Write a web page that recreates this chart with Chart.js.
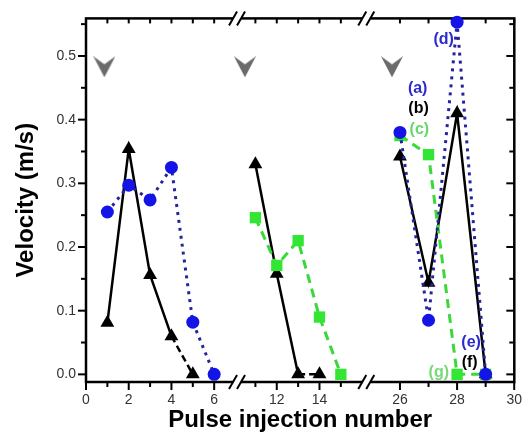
<!DOCTYPE html>
<html>
<head>
<meta charset="utf-8">
<script src="https://cdn.jsdelivr.net/npm/chart.js@4.4.1/dist/chart.umd.min.js"></script>
<style>
html, body { margin: 0; padding: 0; background: #fff; }
#wrap { width: 532px; height: 439px; }
</style>
</head>
<body>
<div id="wrap"><canvas id="myChart"></canvas></div>
<script>
// pulse number / velocity (m/s); null marks a jump over an axis break
var blackX = [1, 2, 3, 4, 5, null, 11, 12, 13, 14, null, 26, 27, 28, 29];
var blackY = [0.081, 0.354, 0.156, 0.06, 0.0, null, 0.33, 0.158, 0.0, 0.0, null, 0.342, 0.144, 0.41, 0.0];
var blueX = [1, 2, 3, 4, 5, 6, null, 26, 27, 28, 29];
var blueY = [0.255, 0.297, 0.274, 0.325, 0.082, 0.0, null, 0.38, 0.085, 0.553, 0.0];
var greenX = [11, 12, 13, 14, 15, null, 26, 27, 28, 29];
var greenY = [0.246, 0.171, 0.21, 0.09, 0.0, null, 0.375, 0.345, 0.0, 0.0];

// grey arrow heads (pulse injections)
var arrowX = [0.86, 10.51, 25.72];
var arrowY = [0.483, 0.483, 0.483];

var xTickLabels = [0, 2, 4, 6, 12, 14, 26, 28, 30];
var xMinorTicks = [1, 3, 5, 11, 13, 15, 27, 29];
var yTickLabels = [0, 0.1, 0.2, 0.3, 0.4, 0.5];
var yMinorTicks = [0.05, 0.15, 0.25, 0.35, 0.45, 0.55];

var tagText = ['(a)', '(b)', '(c)', '(d)', '(e)', '(f)', '(g)'];
var tagX = [26.62, 26.65, 26.68, 27.53, 28.49, 28.44, 27.36];
var tagY = [0.449, 0.418, 0.384, 0.526, 0.05, 0.019, 0.003];
var tagColor = ['#2b2bd0', '#000', '#66d866', '#2b2bd0', '#2b2bd0', '#000', '#77d877'];

// broken x axis: each piece maps pulse numbers onto one continuous axis
var xSegments = [
    { from: 0, to: 7.07, start: 0, stretch: 1 },
    { from: 10.14, to: 16.19, start: 7.07, stretch: 1 },
    { from: 24.82, to: 30, start: 13.12, stretch: 1.337 }
];
var xBreaks = [7.07, 13.12];

function toAxis(x) {
    for (var i = 0; i < xSegments.length; i++) {
        var s = xSegments[i];
        if (x <= s.to || i === xSegments.length - 1) {
            return s.start + (x - s.from) * s.stretch;
        }
    }
}

function points(xs, ys) {
    return xs.map(function (x, i) {
        return x === null ? { x: null, y: null } : { x: toAxis(x), y: ys[i] };
    });
}

// arrow head image for the pointStyle
var arrowImg = document.createElement('canvas');
arrowImg.width = 22;
arrowImg.height = 21;
(function () {
    var g = arrowImg.getContext('2d');
    g.fillStyle = '#6b6b6b';
    g.beginPath();
    g.moveTo(0, 0);
    g.lineTo(11, 8);
    g.lineTo(22, 0);
    g.lineTo(11, 21);
    g.closePath();
    g.fill();
})();

var framePlugin = {
    id: 'frame',
    beforeDatasetsDraw: function (chart) {
        var c = chart.ctx, a = chart.chartArea;
        var xs = chart.scales.x, ys = chart.scales.y;
        function line(x1, y1, x2, y2) {
            c.beginPath(); c.moveTo(x1, y1); c.lineTo(x2, y2); c.stroke();
        }
        c.save();
        c.strokeStyle = '#000';
        c.lineWidth = 2.5;
        c.strokeRect(a.left, a.top, a.right - a.left, a.bottom - a.top);
        c.lineWidth = 2;
        xTickLabels.concat(xMinorTicks).forEach(function (v) {
            var px = xs.getPixelForValue(toAxis(v));
            var len = xMinorTicks.indexOf(v) >= 0 ? 5 : 8;
            line(px, a.bottom, px, a.bottom + len);
            line(px, a.top, px, a.top + 5);
        });
        yTickLabels.concat(yMinorTicks).forEach(function (v) {
            var py = ys.getPixelForValue(v);
            var len = yMinorTicks.indexOf(v) >= 0 ? 5 : 8;
            line(a.left - len, py, a.left, py);
            line(a.right - len, py, a.right, py);
        });
        c.restore();
    },
    afterDatasetsDraw: function (chart) {
        var c = chart.ctx, a = chart.chartArea;
        var xs = chart.scales.x, ys = chart.scales.y;
        c.save();
        // break marks on the top and bottom axes
        xBreaks.forEach(function (b) {
            var px = xs.getPixelForValue(b);
            [a.top, a.bottom].forEach(function (py) {
                c.fillStyle = '#fff';
                c.fillRect(px - 4, py - 3, 8, 6);
                c.strokeStyle = '#000';
                c.lineWidth = 2;
                [-4, 4].forEach(function (dx) {
                    c.beginPath();
                    c.moveTo(px + dx - 4, py + 7);
                    c.lineTo(px + dx + 4, py - 7);
                    c.stroke();
                });
            });
        });
        // series tags
        c.font = 'bold 16px "Liberation Sans", Arial, sans-serif';
        c.textAlign = 'center';
        c.textBaseline = 'middle';
        tagText.forEach(function (t, i) {
            c.fillStyle = tagColor[i];
            c.fillText(t, xs.getPixelForValue(toAxis(tagX[i])), ys.getPixelForValue(tagY[i]));
        });
        c.restore();
    }
};

var ctx = document.getElementById('myChart').getContext('2d');

var myChart = new Chart(ctx, {
    type: 'line',
    data: {
        datasets: [
            {
                label: 'blue',
                data: points(blueX, blueY),
                borderColor: '#24249e',
                borderWidth: 3,
                borderDash: [3, 5],
                pointStyle: 'circle',
                pointRadius: 6.5,
                pointBorderWidth: 0,
                pointBackgroundColor: '#1414e6',
                clip: false
            },
            {
                label: 'green',
                data: points(greenX, greenY),
                borderColor: '#3ad83a',
                borderWidth: 3,
                borderDash: [9, 6],
                pointStyle: 'rect',
                pointRadius: 8,
                pointBorderWidth: 0,
                pointBackgroundColor: '#33e633',
                clip: false
            },
            {
                label: 'black',
                data: points(blackX, blackY),
                borderColor: '#000',
                borderWidth: 2.5,
                pointStyle: 'triangle',
                pointRadius: 8,
                pointBorderWidth: 0,
                pointBackgroundColor: '#000',
                segment: {
                    borderDash: function (s) {
                        return (s.p0.parsed.y < 0.07 && s.p1.parsed.y < 0.005) ? [7, 4] : undefined;
                    }
                },
                clip: false
            },
            {
                label: 'arrows',
                data: points(arrowX, arrowY),
                showLine: false,
                pointStyle: arrowImg,
                clip: false
            }
        ]
    },
    options: {
        responsive: true,
        maintainAspectRatio: false,
        animation: false,
        events: [],
        layout: { padding: { top: 13, right: 15, left: 0, bottom: 0 } },
        plugins: {
            legend: { display: false },
            tooltip: { enabled: false }
        },
        scales: {
            x: {
                type: 'linear',
                min: 0,
                max: 20.05,
                afterBuildTicks: function (scale) {
                    scale.ticks = xTickLabels.map(function (v) { return { value: toAxis(v) }; });
                },
                afterFit: function (scale) { scale.height = 57; },
                ticks: {
                    autoSkip: false,
                    maxRotation: 0,
                    padding: 10,
                    color: '#333',
                    font: { family: '"Liberation Sans", Arial, sans-serif', size: 14 },
                    callback: function (value, index) { return String(xTickLabels[index]); }
                },
                grid: { display: false, drawTicks: false },
                border: { display: false },
                title: {
                    display: true,
                    text: 'Pulse injection number',
                    color: '#000',
                    padding: { top: 0, bottom: 4 },
                    font: { family: '"Liberation Sans", Arial, sans-serif', size: 24, weight: 'bold' }
                }
            },
            y: {
                min: -0.012,
                max: 0.559,
                afterBuildTicks: function (scale) {
                    scale.ticks = yTickLabels.map(function (v) { return { value: v }; });
                },
                afterFit: function (scale) { scale.width = 86; },
                ticks: {
                    padding: 10,
                    color: '#333',
                    font: { family: '"Liberation Sans", Arial, sans-serif', size: 14 },
                    callback: function (value) { return value.toFixed(1); }
                },
                grid: { display: false, drawTicks: false },
                border: { display: false },
                title: {
                    display: true,
                    text: 'Velocity (m/s)',
                    color: '#000',
                    padding: { top: 12, bottom: 0 },
                    font: { family: '"Liberation Sans", Arial, sans-serif', size: 24, weight: 'bold' }
                }
            }
        }
    },
    plugins: [framePlugin]
});
</script>
</body>
</html>
